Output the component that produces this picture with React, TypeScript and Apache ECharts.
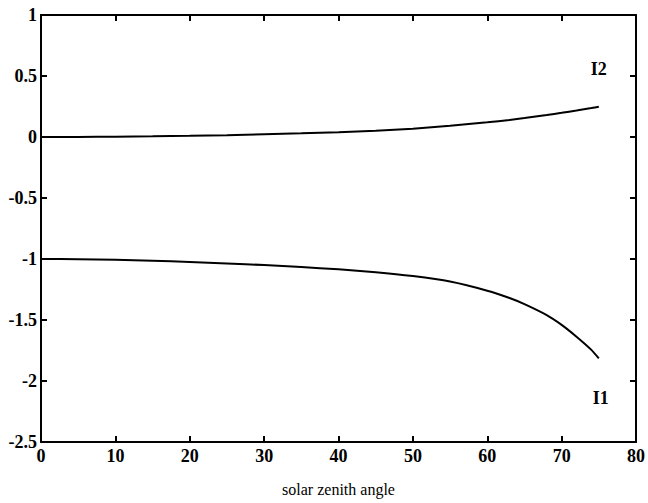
import React, { useEffect, useRef } from "react";
import * as echarts from "echarts";

const angles = [0, 5, 10, 15, 20, 25, 30, 35, 40, 45, 50, 55, 60, 63, 65, 68, 70, 72, 74, 75];
const i1Values = [-1, -1.002, -1.007, -1.014, -1.024, -1.036, -1.05, -1.066, -1.085, -1.108, -1.14, -1.185, -1.26, -1.32, -1.37, -1.46, -1.54, -1.637, -1.745, -1.815];
const i2Values = [0, 0.001, 0.003, 0.006, 0.01, 0.015, 0.022, 0.03, 0.039, 0.051, 0.068, 0.092, 0.12, 0.14, 0.155, 0.18, 0.198, 0.217, 0.237, 0.248];
const xTicks = { min: 0, max: 80, interval: 10 };
const yTicks = { min: -2.5, max: 1, interval: 0.5 };
const seriesNames = ["I1", "I2"];
const xTitle = "solar zenith angle";

const FONT = "'Liberation Serif', 'DejaVu Serif', serif";

export default function App() {
  const ref = useRef<HTMLDivElement>(null);
  useEffect(() => {
    if (!ref.current) return;
    const chart = echarts.init(ref.current, undefined, { renderer: "svg" });
    const axisLine = { show: true, onZero: false, lineStyle: { color: "#000", width: 2 } };
    const axisTick = { show: true, inside: true, length: 6, lineStyle: { color: "#000", width: 2 } };
    const labelStyle = { color: "#000", fontFamily: FONT, fontSize: 18, fontWeight: "bold" as const };
    chart.setOption({
      animation: false,
      backgroundColor: "#fff",
      grid: { left: 41, right: 8, top: 15, bottom: 61, containLabel: false },
      xAxis: [
        {
          type: "value",
          min: xTicks.min,
          max: xTicks.max,
          interval: xTicks.interval,
          position: "bottom",
          axisLine,
          axisTick,
          splitLine: { show: false },
          axisLabel: { ...labelStyle, margin: 5 },
          name: xTitle,
          nameLocation: "middle",
          nameGap: 39,
          nameTextStyle: { color: "#000", fontFamily: FONT, fontSize: 16, verticalAlign: "top" },
        },
        {
          type: "value",
          min: xTicks.min,
          max: xTicks.max,
          interval: xTicks.interval,
          position: "top",
          axisLine,
          axisTick,
          splitLine: { show: false },
          axisLabel: { show: false },
        },
      ],
      yAxis: [
        {
          type: "value",
          min: yTicks.min,
          max: yTicks.max,
          interval: yTicks.interval,
          position: "left",
          axisLine,
          axisTick,
          splitLine: { show: false },
          axisLabel: { ...labelStyle, margin: 4 },
        },
        {
          type: "value",
          min: yTicks.min,
          max: yTicks.max,
          interval: yTicks.interval,
          position: "right",
          axisLine,
          axisTick,
          splitLine: { show: false },
          axisLabel: { show: false },
        },
      ],
      series: [
        {
          name: seriesNames[0],
          type: "line",
          data: angles.map((a, i) => [a, i1Values[i]]),
          smooth: 0.2,
          symbol: "none",
          lineStyle: { color: "#000", width: 2 },
          endLabel: {
            show: true,
            formatter: seriesNames[0],
            color: "#000",
            fontFamily: FONT,
            fontSize: 18,
            fontWeight: "bold",
            offset: [-14, 40],
          },
        },
        {
          name: seriesNames[1],
          type: "line",
          data: angles.map((a, i) => [a, i2Values[i]]),
          smooth: 0.2,
          symbol: "none",
          lineStyle: { color: "#000", width: 2 },
          endLabel: {
            show: true,
            formatter: seriesNames[1],
            color: "#000",
            fontFamily: FONT,
            fontSize: 18,
            fontWeight: "bold",
            offset: [-16, -38],
          },
        },
      ],
    });
    return () => chart.dispose();
  }, []);
  return <div ref={ref} style={{ position: "fixed", left: 0, top: 0, width: 648, height: 503 }} />;
}
